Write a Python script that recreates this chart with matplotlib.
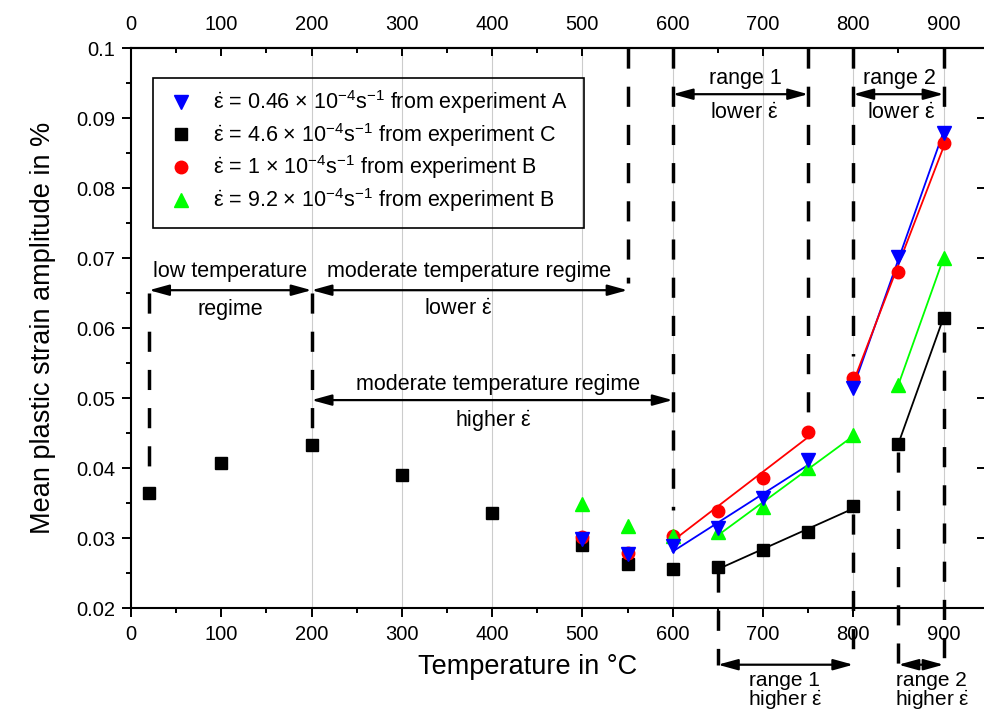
import numpy as np
import matplotlib
matplotlib.use('Agg')
import matplotlib.pyplot as plt
from matplotlib.ticker import MultipleLocator, FuncFormatter, FixedLocator
from matplotlib.patches import Rectangle, ArrowStyle

plt.rcParams['font.family'] = ['Liberation Sans', 'DejaVu Sans']
plt.rcParams['mathtext.fontset'] = 'custom'
plt.rcParams['mathtext.rm'] = 'Liberation Sans'
plt.rcParams['mathtext.it'] = 'Liberation Sans:italic'
plt.rcParams['mathtext.bf'] = 'Liberation Sans:bold'

# data
temps_c = [20, 100, 200, 300, 400, 500, 550, 600, 650, 700, 750, 800, 850, 900]
strain_c = [0.0365, 0.0407, 0.0433, 0.0390, 0.0336, 0.0290, 0.0263, 0.0256,
            0.0258, 0.0283, 0.0308, 0.0346, 0.0435, 0.0615]
temps_ab = [500, 550, 600, 650, 700, 750, 800, 850, 900]
strain_a = [0.0298, 0.0277, 0.0288, 0.0314, 0.0357, 0.0411, 0.0514, 0.0701, 0.0879]
strain_b1 = [0.0301, 0.0279, 0.0303, 0.0339, 0.0386, 0.0452, 0.0528, 0.0680, 0.0864]
strain_b9 = [0.0349, 0.0317, 0.0303, 0.0308, 0.0344, 0.0400, 0.0447, 0.0519, 0.0700]

ranges_lower = [(600, 750), (800, 900)]
ranges_higher = [(650, 800), (850, 900)]

# dashed boundary lines: (temperature, y from, y to)
dashed = [(20, 0.0385, 0.065), (200, 0.0445, 0.065), (550, 0.0665, 0.1),
          (600, 0.034, 0.1), (650, 0.0119, 0.0252), (750, 0.0475, 0.1),
          (800, 0.056, 0.1), (800, 0.0119, 0.0335), (850, 0.0119, 0.0423),
          (900, 0.0897, 0.1), (900, 0.0119, 0.0595)]
grid_x = [200, 300, 400, 500, 600, 700, 800, 900]

eps = r'$\dot{\mathrm{\varepsilon}}$'
labels = [eps + r' = 0.46 × 10$^{-4}$s$^{-1}$ from experiment A',
          eps + r' = 4.6 × 10$^{-4}$s$^{-1}$ from experiment C',
          eps + r' = 1 × 10$^{-4}$s$^{-1}$ from experiment B',
          eps + r' = 9.2 × 10$^{-4}$s$^{-1}$ from experiment B']


def fit_line(t, s, lo, hi):
    t = np.array(t)
    s = np.array(s)
    m = (t >= lo) & (t <= hi)
    p = np.polyfit(t[m], s[m], 1)
    xs = np.array([lo, hi])
    return xs, np.polyval(p, xs)


fig = plt.figure(figsize=(9.84, 7.16), dpi=100)
ax = fig.add_axes([131 / 984, 108 / 716, 855 / 984, 560 / 716])
ax.set_xlim(0, 947)
ax.set_ylim(0.02, 0.1)

for gx in grid_x:
    ax.axvline(gx, color='#cccccc', lw=0.8, zorder=0)

for x, y0, y1 in dashed:
    ax.plot([x, x], [y1, y0], color='black', lw=2.5, ls=(0, (5.8, 5.2)),
            clip_on=False, zorder=2, dash_capstyle='butt')

# fit lines
for lo, hi in ranges_higher:
    xs, ys = fit_line(temps_c, strain_c, lo, hi)
    ax.plot(xs, ys, color='black', lw=1.3, zorder=3)
    xs, ys = fit_line(temps_ab, strain_b9, lo, hi)
    ax.plot(xs, ys, color='#00ff00', lw=1.3, zorder=3)
for lo, hi in ranges_lower:
    xs, ys = fit_line(temps_ab, strain_a, lo, hi)
    ax.plot(xs, ys, color='blue', lw=1.3, zorder=3)
    xs, ys = fit_line(temps_ab, strain_b1, lo, hi)
    ax.plot(xs, ys, color='red', lw=1.3, zorder=3)

h_c, = ax.plot(temps_c, strain_c, 's', color='black', ms=8, ls='none', zorder=5)
h_b1, = ax.plot(temps_ab, strain_b1, 'o', color='red', ms=9, ls='none', zorder=5)
h_b9, = ax.plot(temps_ab, strain_b9, '^', color='#00ff00', ms=9.5, ls='none', zorder=5)
h_a, = ax.plot(temps_ab, strain_a, 'v', color='blue', ms=9.5, ls='none', zorder=5)

leg = ax.legend([h_a, h_c, h_b1, h_b9], labels, loc='upper left',
                bbox_to_anchor=(0.046, 0.928), frameon=False, fontsize=15.5,
                handlelength=1.0, handletextpad=1.0, labelspacing=0.22,
                borderpad=0, borderaxespad=0)
ax.add_patch(Rectangle((0.026, 0.679), 0.504, 0.267, transform=ax.transAxes,
                       fill=False, edgecolor='black', lw=1.2, zorder=6))

arrow = ArrowStyle('<|-|>', head_length=0.8, head_width=0.22)


def darrow(x0, x1, y):
    ax.annotate('', xy=(x0, y), xytext=(x1, y), annotation_clip=False,
                arrowprops=dict(arrowstyle=arrow, color='black', lw=1.6,
                                mutation_scale=15, shrinkA=0, shrinkB=0))


big = 15.5
small = 15
darrow(20, 200, 0.0654)
ax.text(110, 0.0680, 'low temperature', ha='center', va='center', fontsize=big)
ax.text(110, 0.0627, 'regime', ha='center', va='center', fontsize=big)
darrow(200, 550, 0.0654)
ax.text(374, 0.0680, 'moderate temperature regime', ha='center', va='center', fontsize=big)
ax.text(362, 0.0627, 'lower ' + eps, ha='center', va='center', fontsize=big)
darrow(200, 600, 0.0497)
ax.text(407, 0.0519, 'moderate temperature regime', ha='center', va='center', fontsize=big)
ax.text(401, 0.0466, 'higher ' + eps, ha='center', va='center', fontsize=big)
darrow(600, 750, 0.0934)
ax.text(680, 0.0957, 'range 1', ha='center', va='center', fontsize=big)
ax.text(679, 0.0907, 'lower ' + eps, ha='center', va='center', fontsize=big)
darrow(800, 900, 0.0934)
ax.text(851, 0.0957, 'range 2', ha='center', va='center', fontsize=big)
ax.text(853, 0.0907, 'lower ' + eps, ha='center', va='center', fontsize=big)
darrow(650, 800, 0.0119)
ax.text(724, 0.0097, 'range 1', ha='center', va='center', fontsize=small, clip_on=False)
ax.text(725, 0.0069, 'higher ' + eps, ha='center', va='center', fontsize=small, clip_on=False)
darrow(850, 900, 0.0119)
ax.text(887, 0.0097, 'range 2', ha='center', va='center', fontsize=small, clip_on=False)
ax.text(888, 0.0069, 'higher ' + eps, ha='center', va='center', fontsize=small, clip_on=False)

# axes styling
for sp in ax.spines.values():
    sp.set_linewidth(1.5)
xt = list(range(0, 1000, 100))
ax.set_xticks(xt)
ax.xaxis.set_minor_locator(MultipleLocator(50))
ax.set_yticks(np.arange(0.02, 0.1001, 0.01))
ax.yaxis.set_minor_locator(MultipleLocator(0.005))
ax.yaxis.set_major_formatter(FuncFormatter(lambda v, p: '%g' % round(v, 3)))
ax.tick_params(which='major', direction='out', length=6.5, width=1.4, labelsize=14.5)
ax.tick_params(which='minor', direction='out', length=3.3, width=1.4)
ax.tick_params(axis='x', which='major', pad=6)
ax.tick_params(axis='y', which='major', pad=5)

top = ax.secondary_xaxis('top')
top.set_xticks(xt)
top.xaxis.set_minor_locator(MultipleLocator(50))
top.tick_params(which='major', direction='in', length=6, width=1.4, labelsize=14.5, pad=10)
top.tick_params(which='minor', direction='in', length=3.5, width=1.4)
top.spines['top'].set_linewidth(1.5)

right = ax.secondary_yaxis('right')
right.set_yticks(np.arange(0.02, 0.1001, 0.01))
right.tick_params(which='major', direction='in', length=6.5, width=1.4, labelright=False)
right.tick_params(which='minor', length=0)
right.yaxis.set_minor_locator(FixedLocator([]))

ax.set_xlabel('Temperature in °C', fontsize=19.5)
ax.xaxis.set_label_coords(0.464, -0.083)
ax.set_ylabel('Mean plastic strain amplitude in %', fontsize=19.5)
ax.yaxis.set_label_coords(-0.088, 0.5)

fig.savefig('out.png', dpi=100)
